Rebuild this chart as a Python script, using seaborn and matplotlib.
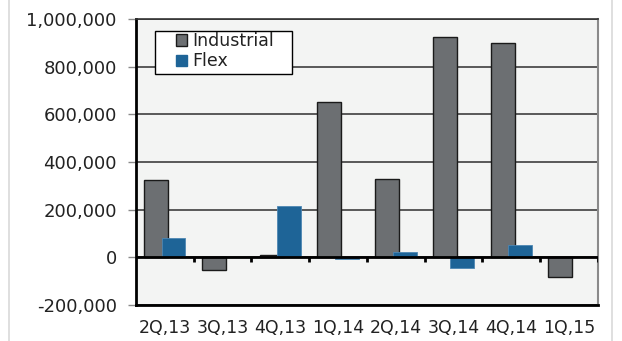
#=====================================================================================================
# Program Name     : IndustrialFlexAbsorptionBarPlot
# Description      : Grouped bar chart of quarterly Industrial and Flex values (2Q,13 - 1Q,15)
# Output           : out.png
#=====================================================================================================

import pandas as pd
import matplotlib.pyplot as plt
import matplotlib.ticker as mticker
from matplotlib.lines import Line2D
import seaborn as sns

quarters = ["2Q,13", "3Q,13", "4Q,13", "1Q,14", "2Q,14", "3Q,14", "4Q,14", "1Q,15"]
industrial = [324000, -53000, 10000, 650000, 329000, 925000, 899000, -81000]
flex = [81000, 0, 214000, -7000, 24000, -44000, 53000, 1000]
series_names = ["Industrial", "Flex"]
y_ticks = [-200000, 0, 200000, 400000, 600000, 800000, 1000000]

COLORS = {"Industrial": "#6c6f72", "Flex": "#1e6497"}


#-----------------------------------------------------------------------------------------------------
# Function Name    : plot_bars
# Description      : Draws the grouped bar chart and saves it
#-----------------------------------------------------------------------------------------------------
def plot_bars(df):
    sns.set_style("white")
    plt.rcParams["font.family"] = ["DejaVu Sans"]

    fig = plt.figure(figsize=(6.22, 3.41), dpi=100)
    ax = fig.add_axes([0.2186, 0.1056, 0.7428, 0.8387])
    ax.set_facecolor("#f3f4f3")

    sns.barplot(
        data=df, x="Quarter", y="Value", hue="Series",
        order=quarters, hue_order=series_names,
        palette=COLORS, saturation=1, width=0.6,
        errorbar=None, ax=ax, zorder=3, legend=False
    )

    # widen bars so they overlap slightly like the original
    for cont, edge, lw in zip(ax.containers, ["#1a1a1a", "#4d86b3"], [1.0, 0.6]):
        for p in cont:
            cx = p.get_x() + p.get_width() / 2
            p.set_x(cx - 0.2075)
            p.set_width(0.415)
            p.set_edgecolor(edge)
            p.set_linewidth(lw)

    ax.set_xlim(-0.5, len(quarters) - 0.5)
    ax.set_ylim(-200000, 1000000)
    ax.set_yticks(y_ticks)
    ax.yaxis.set_major_formatter(mticker.FuncFormatter(lambda v, _: f"{int(v):,}"))
    ax.yaxis.grid(True, color="#2e2e2e", linewidth=1.1, zorder=1)
    ax.set_axisbelow(True)

    # zero line with small tick marks between groups
    ax.axhline(0, color="black", linewidth=2, zorder=4)
    bounds = [i + 0.5 for i in range(len(quarters))]
    ax.vlines(bounds, -20000, 0, color="black", linewidth=2, zorder=4)

    ax.tick_params(axis="y", length=5.8, width=1, color="#8a8a8a", pad=8,
                   labelsize=13, labelcolor="#222222", left=True)
    ax.tick_params(axis="x", length=0, pad=10, labelsize=12.5, labelcolor="#222222")
    ax.set_xlabel("")
    ax.set_ylabel("")

    for side in ["left", "bottom"]:
        ax.spines[side].set_color("black")
        ax.spines[side].set_linewidth(2)
    ax.spines["top"].set_color("#333333")
    ax.spines["top"].set_linewidth(1.2)
    ax.spines["right"].set_color("#8a8a8a")
    ax.spines["right"].set_linewidth(1.5)

    # legend box (white, black edge) with the entries placed inside
    box = plt.Rectangle((0.0411, 0.8077), 0.2966, 0.1513, transform=ax.transAxes,
                        facecolor="white", edgecolor="black", linewidth=1, zorder=6)
    ax.add_patch(box)
    handles = [
        plt.Rectangle((0, 0), 1, 1, facecolor=COLORS["Industrial"], edgecolor="#1a1a1a", linewidth=1),
        plt.Rectangle((0, 0), 1, 1, facecolor=COLORS["Flex"], edgecolor=COLORS["Flex"]),
    ]
    leg = ax.legend(handles, series_names, loc="upper left",
                    bbox_to_anchor=(0.0866, 0.955), borderaxespad=0,
                    fontsize=12.5, frameon=False,
                    handlelength=0.65, handleheight=0.65, handletextpad=0.3,
                    labelspacing=0.15, borderpad=0)
    leg.set_zorder(7)
    for t in leg.get_texts():
        t.set_color("#222222")

    # outer frame lines of the panel
    for xf in [9 / 622, 612 / 622]:
        fig.add_artist(Line2D([xf, xf], [0, 1], color="#d9d9d9", linewidth=1.2))

    fig.savefig("out.png", dpi=100)


#-----------------------------------------------------------------------------------------------------
# Function Name    : main
#-----------------------------------------------------------------------------------------------------
def main():
    df = pd.DataFrame({
        "Quarter": quarters * 2,
        "Series": ["Industrial"] * len(quarters) + ["Flex"] * len(quarters),
        "Value": industrial + flex,
    })
    plot_bars(df)


if __name__ == "__main__":
    main()
